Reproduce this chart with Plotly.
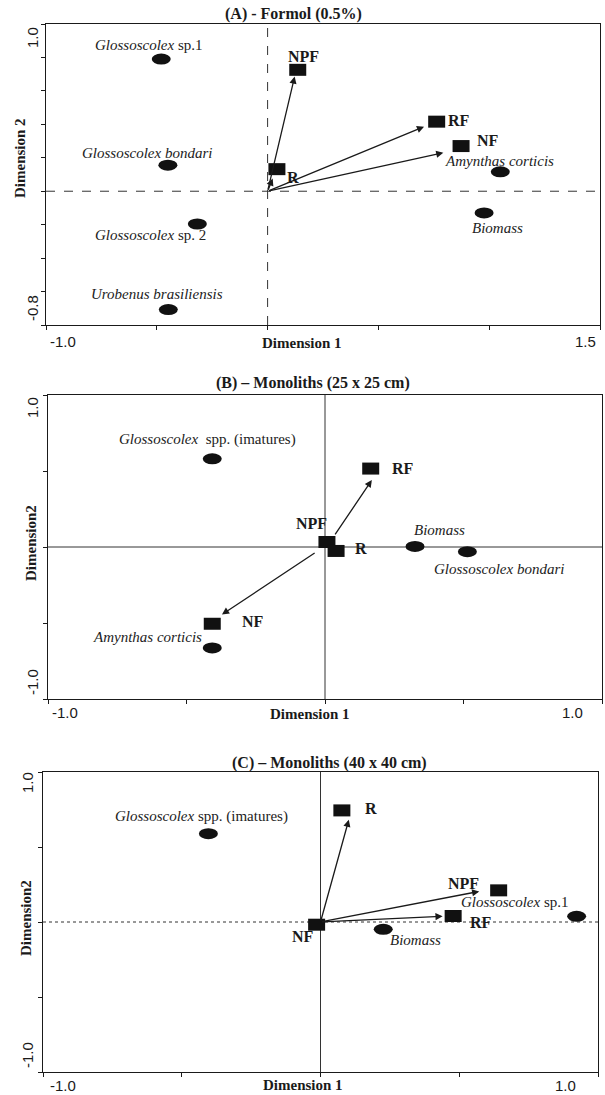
import plotly.graph_objects as go

# ---------------- data ----------------
# Panel A - Formol (0.5%)
a_species = ["<i>Glossoscolex</i> sp.1", "<i>Glossoscolex bondari</i>", "<i>Glossoscolex</i> sp. 2",
             "<i>Urobenus brasiliensis</i>", "<i>Amynthas corticis</i>", "<i>Biomass</i>"]
a_sp_x = [-0.48, -0.45, -0.317, -0.448, 1.05, 0.977]
a_sp_y = [0.79, 0.156, -0.196, -0.708, 0.116, -0.13]
a_vars = ["NPF", "RF", "NF", "R"]
a_var_x = [0.136, 0.763, 0.873, 0.042]
a_var_y = [0.726, 0.416, 0.27, 0.132]
a_arrow_x = [0.122, 0.706, 0.793, 0.023]
a_arrow_y = [0.686, 0.386, 0.23, 0.076]
a_arrow_x0 = [0.0, 0.0, 0.0, 0.0]
a_arrow_y0 = [0.0, 0.0, 0.0, 0.0]

# Panel B - Monoliths (25 x 25 cm)
b_species = ["<i>Glossoscolex</i>  spp. (imatures)", "<i>Biomass</i>", "<i>Glossoscolex bondari</i>",
             "<i>Amynthas corticis</i>"]
b_sp_x = [-0.407, 0.325, 0.514, -0.407]
b_sp_y = [0.58, 0.004, -0.031, -0.664]
b_vars = ["RF", "NPF", "R", "NF"]
b_var_x = [0.165, 0.007, 0.04, -0.407]
b_var_y = [0.516, 0.033, -0.026, -0.505]
b_arrow_x = [0.169, -0.372]
b_arrow_y = [0.44, -0.444]
b_arrow_x0 = [0.033, -0.032]
b_arrow_y0 = [0.073, -0.033]

# Panel C - Monoliths (40 x 40 cm)
c_species = ["<i>Glossoscolex</i> spp. (imatures)", "<i>Biomass</i>", "<i>Glossoscolex</i> sp.1"]
c_sp_x = [-0.404, 0.226, 0.923]
c_sp_y = [0.589, -0.049, 0.038]
c_vars = ["R", "NPF", "RF", "NF"]
c_var_x = [0.077, 0.642, 0.478, -0.014]
c_var_y = [0.744, 0.211, 0.04, -0.018]
c_arrow_x = [0.102, 0.572, 0.44]
c_arrow_y = [0.682, 0.204, 0.038]
c_arrow_x0 = [0.0, 0.0, 0.0]
c_arrow_y0 = [0.0, 0.0, 0.0]

titles = ["(A) - Formol (0.5%)", "(B) \u2013 Monoliths (25 x 25 cm)", "(C) \u2013 Monoliths (40 x 40 cm)"]
y_titles = ["Dimension 2", "Dimension2", "Dimension2"]

# ---------------- layout helpers (pixel geometry) ----------------
W, H = 605, 1095
SERIF = "Liberation Serif"
SANS = "Liberation Sans"
INK = "#1a1a1a"

# label offsets in pixels (dx, dy) relative to each mark
a_sp_off = [(-12, 14), (-21, 12), (-47, -11), (-11, 16), (-1, 11), (13, -15)]
a_var_off = [(6, 13), (22, 1), (27, 6), (16, -8)]
b_sp_off = [(-5, 19), (24, 16), (32, -17), (-65, 11)]
b_var_off = [(32, 0), (-15, 18), (25, 2), (41, 2)]
c_sp_off = [(-7, 17), (32, -11), (-62, 14)]
c_var_off = [(29, 2), (-35, 7), (28, -6), (-14, -12)]

panels = [
    dict(box=(46, 600, 24, 325), xr=[-1.0, 1.5], yr=[-0.8, 1.0],
         xt=[-1.0, -0.5, 0, 0.5, 1.0, 1.5], yt=[-0.8, -0.6, -0.4, -0.2, 0, 0.2, 0.4, 0.6, 0.8, 1.0],
         xlab=[("-1.0", -1.0, 17), ("1.5", 1.5, -15)], ylab=[("1.0", 1.0, -13), ("-0.8", -0.8, 17)],
         xlab_dy=-17, ylab_dx=-14,
         title=(293, 14), xtitle=(302, 343), ytitle=(20, 158),
         sp=(a_species, a_sp_x, a_sp_y, a_sp_off), var=(a_vars, a_var_x, a_var_y, a_var_off),
         arr=(a_arrow_x, a_arrow_y, a_arrow_x0, a_arrow_y0),
         hdash="dash", vdash="dash"),
    dict(box=(48, 602, 395, 699), xr=[-1.0, 1.0], yr=[-1.0, 1.0],
         xt=[-1.0, -0.5, 0, 0.5, 1.0], yt=[-1.0, -0.5, 0, 0.5, 1.0],
         xlab=[("-1.0", -1.0, 17), ("1.0", 1.0, -30)], ylab=[("1.0", 1.0, -13), ("-1.0", -1.0, 17)],
         xlab_dy=-13, ylab_dx=-16,
         title=(313, 383), xtitle=(310, 714), ytitle=(31, 543),
         sp=(b_species, b_sp_x, b_sp_y, b_sp_off), var=(b_vars, b_var_x, b_var_y, b_var_off),
         arr=(b_arrow_x, b_arrow_y, b_arrow_x0, b_arrow_y0),
         hdash="solid", vdash="solid"),
    dict(box=(43, 598, 772, 1072), xr=[-1.0, 1.0], yr=[-1.0, 1.0],
         xt=[-1.0, -0.5, 0, 0.5, 1.0], yt=[-1.0, -0.5, 0, 0.5, 1.0],
         xlab=[("-1.0", -1.0, 20), ("1.0", 1.0, -33)], ylab=[("1.0", 1.0, -11), ("-1.0", -1.0, 17)],
         xlab_dy=-13, ylab_dx=-16,
         title=(329, 763), xtitle=(303, 1085), ytitle=(26, 918),
         sp=(c_species, c_sp_x, c_sp_y, c_sp_off), var=(c_vars, c_var_x, c_var_y, c_var_off),
         arr=(c_arrow_x, c_arrow_y, c_arrow_x0, c_arrow_y0),
         hdash="dot", vdash="solid"),
]

fig = go.Figure()
layout = dict(width=W, height=H, margin=dict(l=0, r=0, t=0, b=0),
              paper_bgcolor="white", plot_bgcolor="white", showlegend=False)
shapes, annotations = [], []
CM = dict(xanchor="center", yanchor="middle", showarrow=False)

for i, p in enumerate(panels):
    n = "" if i == 0 else str(i + 1)
    xa, ya = "x" + n, "y" + n
    l, r, t, b = p["box"]
    axis_common = dict(showgrid=False, zeroline=False, showline=True, mirror=True,
                       linecolor=INK, linewidth=1.4, ticks="outside", ticklen=4,
                       tickcolor=INK, tickwidth=1.2, showticklabels=False, fixedrange=True)
    layout["xaxis" + n] = dict(domain=[l / W, r / W], range=p["xr"], tickvals=p["xt"],
                               anchor=ya, **axis_common)
    layout["yaxis" + n] = dict(domain=[1 - b / H, 1 - t / H], range=p["yr"], tickvals=p["yt"],
                               anchor=xa, **axis_common)

    # reference lines at 0
    shapes.append(dict(type="line", xref=xa, yref=ya + " domain", x0=0, x1=0, y0=0, y1=1,
                       line=dict(color="#333", width=1, dash=p["vdash"]), layer="below"))
    shapes.append(dict(type="line", xref=xa + " domain", yref=ya, x0=0, x1=1, y0=0, y1=0,
                       line=dict(color="#333", width=1, dash=p["hdash"]), layer="below"))

    # tick labels
    for txt, v, sh in p["xlab"]:
        annotations.append(dict(text=txt, xref=xa, yref=ya + " domain", x=v, y=0, xshift=sh,
                                yshift=p["xlab_dy"], font=dict(family=SANS, size=15, color=INK), **CM))
    for txt, v, sh in p["ylab"]:
        annotations.append(dict(text=txt, xref=xa + " domain", yref=ya, x=0, y=v, xshift=p["ylab_dx"],
                                yshift=sh, textangle=-90,
                                font=dict(family=SANS, size=15, color=INK), **CM))
    # titles
    tx, ty = p["title"]
    annotations.append(dict(text="<b>" + titles[i] + "</b>", xref="paper", yref="paper",
                            x=tx / W, y=1 - ty / H, font=dict(family=SERIF, size=16, color=INK), **CM))
    tx, ty = p["xtitle"]
    annotations.append(dict(text="<b>Dimension 1</b>", xref="paper", yref="paper",
                            x=tx / W, y=1 - ty / H, font=dict(family=SERIF, size=15, color=INK), **CM))
    tx, ty = p["ytitle"]
    annotations.append(dict(text="<b>" + y_titles[i] + "</b>", xref="paper", yref="paper",
                            x=tx / W, y=1 - ty / H, textangle=-90,
                            font=dict(family=SERIF, size=15, color=INK), **CM))

    # arrows
    ax_, ay_, ax0, ay0 = p["arr"]
    for k in range(len(ax_)):
        annotations.append(dict(text="", xref=xa, yref=ya, axref=xa, ayref=ya,
                                x=ax_[k], y=ay_[k], ax=ax0[k], ay=ay0[k], showarrow=True,
                                arrowhead=2, arrowsize=1.1, arrowwidth=1.3, arrowcolor=INK,
                                standoff=0, startstandoff=0))

    # species (ellipses)
    names, xs, ys, offs = p["sp"]
    fig.add_trace(go.Scatter(x=xs, y=ys, xaxis=xa, yaxis=ya, mode="markers", text=names,
                             marker=dict(size=10, color="rgba(0,0,0,0)"), hoverinfo="text"))
    for k in range(len(xs)):
        shapes.append(dict(type="circle", xref=xa, yref=ya, xsizemode="pixel", ysizemode="pixel",
                           xanchor=xs[k], yanchor=ys[k], x0=-9.5, x1=9.5, y0=-5.5, y1=5.5,
                           fillcolor="#111", line=dict(color="#111", width=0)))
        annotations.append(dict(text=names[k], xref=xa, yref=ya, x=xs[k], y=ys[k],
                                xshift=offs[k][0], yshift=offs[k][1],
                                font=dict(family=SERIF, size=15, color="#222"), **CM))

    # variables (rectangles)
    names, xs, ys, offs = p["var"]
    fig.add_trace(go.Scatter(x=xs, y=ys, xaxis=xa, yaxis=ya, mode="markers", text=names,
                             marker=dict(size=10, color="rgba(0,0,0,0)"), hoverinfo="text"))
    for k in range(len(xs)):
        shapes.append(dict(type="rect", xref=xa, yref=ya, xsizemode="pixel", ysizemode="pixel",
                           xanchor=xs[k], yanchor=ys[k], x0=-8.5, x1=8.5, y0=-6, y1=6,
                           fillcolor="#111", line=dict(color="#111", width=0)))
        annotations.append(dict(text="<b>" + names[k] + "</b>", xref=xa, yref=ya, x=xs[k], y=ys[k],
                                xshift=offs[k][0], yshift=offs[k][1],
                                font=dict(family=SERIF, size=16, color=INK), **CM))

layout["shapes"] = shapes
layout["annotations"] = annotations
fig.update_layout(**layout)
fig.write_html("out.html")
